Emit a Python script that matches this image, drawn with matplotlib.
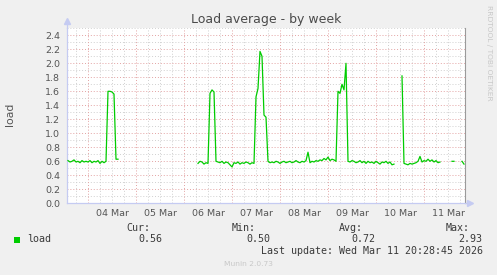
import numpy as np
import matplotlib
matplotlib.use("Agg")
import matplotlib.pyplot as plt

# hours since 04 Mar 00:00, one sample per hour, None = no data
first_hour = -10
load = (
    [0.61, 0.59, 0.60, 0.62, 0.59, 0.60, 0.58, 0.61, 0.59, 0.60]
    + [0.59, 0.61, 0.58, 0.60, 0.59, 0.61, 0.57, 0.60, 0.58, 0.60,
       1.60, 1.60, 1.59, 1.56, 0.63, 0.63]
    + [None] * 39
    + [0.57, 0.60, 0.59, 0.56, 0.58, 0.57]
    + [1.57, 1.62, 1.59, 0.60]
    + [0.59, 0.58, 0.60, 0.57, 0.59, 0.58, 0.55, 0.52, 0.58, 0.57,
       0.59, 0.56, 0.58, 0.57, 0.59, 0.58, 0.56, 0.58, 0.57]
    + [1.52, 1.64, 2.17, 2.10, 1.26, 1.23, 0.60]
    + [0.58, 0.59, 0.58, 0.60, 0.59, 0.57, 0.59, 0.60, 0.58, 0.59,
       0.60, 0.58, 0.59, 0.61, 0.59, 0.58, 0.60, 0.59, 0.61, 0.73,
       0.58, 0.60, 0.59, 0.61, 0.60, 0.62, 0.61, 0.64, 0.62, 0.66,
       0.61, 0.63, 0.62, 0.60]
    + [1.60, 1.57, 1.70, 1.62, 2.00]
    + [0.60, 0.59, 0.61, 0.60, 0.58, 0.59, 0.61, 0.58, 0.60, 0.57,
       0.60, 0.58, 0.59, 0.57, 0.60, 0.58, 0.56, 0.59, 0.58, 0.60,
       0.57, 0.59, 0.55, 0.56]
    + [None] * 3
    + [1.82]
    + [0.57, 0.56, 0.55, 0.57, 0.56, 0.57, 0.58, 0.60, 0.67, 0.59,
       0.61, 0.60, 0.63, 0.60, 0.62, 0.59, 0.61, 0.58, 0.59]
    + [None] * 5
    + [0.60, 0.60]
    + [None] * 3
    + [0.60, 0.56]
)

day_labels = ["04 Mar", "05 Mar", "06 Mar", "07 Mar",
              "08 Mar", "09 Mar", "10 Mar", "11 Mar"]
x_range = (-10.5, 188.5)
y_max = 2.5

stat_names = ["Cur:", "Min:", "Avg:", "Max:"]
stat_values = ["0.56", "0.50", "0.72", "2.93"]
last_update = "Last update: Wed Mar 11 20:28:45 2026"

GREEN = "#00CC00"
BG = "#F0F0F0"
AXIS = "#C5CBF2"
TXT = "#555555"

W, H = 497, 275
fig = plt.figure(figsize=(W / 100, H / 100), dpi=100, facecolor=BG)
ax = fig.add_axes([67 / W, 1 - 203.3 / H, 398 / W, 175 / H])
ax.set_facecolor("white")

hours = np.arange(first_hour, first_hour + len(load))
values = np.array(load, dtype=float)

ax.set_xlim(*x_range)
ax.set_ylim(0, y_max)

# grid: minor grey, major red-ish, both dotted
dot = (0, (1, 2))
for h in np.arange(-6, x_range[1], 6):
    if h % 24:
        ax.axvline(h, color="#D0D0D0", lw=0.7, ls=dot, zorder=1)
for v in np.arange(0.1, y_max + 0.01, 0.2):
    ax.axhline(v, color="#D0D0D0", lw=0.7, ls=dot, zorder=1)
for i in range(len(day_labels)):
    ax.axvline(24 * i, color="#E3A3A3", lw=0.7, ls=dot, zorder=2)
for v in np.arange(0.2, y_max, 0.2):
    ax.axhline(v, color="#E3A3A3", lw=0.7, ls=dot, zorder=2)

ax.plot(hours, values, color=GREEN, lw=0.9, zorder=3)

ax.set_xticks([24 * i + 12 for i in range(len(day_labels))])
ax.set_xticklabels(day_labels)
ax.set_yticks(np.arange(0, 2.41, 0.2))
ax.set_yticklabels([f"{v:.1f}" for v in np.arange(0, 2.41, 0.2)])
ax.tick_params(axis="both", length=0, labelsize=6.8, labelcolor=TXT)
ax.tick_params(axis="y", pad=5)
ax.tick_params(axis="x", pad=4)

for s in ["top"]:
    ax.spines[s].set_visible(False)
ax.spines["right"].set_color("#9A9A9A")
ax.spines["right"].set_linewidth(0.8)
for s in ["left", "bottom"]:
    ax.spines[s].set_color(AXIS)
    ax.spines[s].set_linewidth(0.9)

# axis arrows
ax.plot([0, 0], [1, 1.03], transform=ax.transAxes, color=AXIS, lw=0.9, clip_on=False)
ax.plot([0], [1.04], transform=ax.transAxes, marker="^", ms=4, color=AXIS, clip_on=False)
ax.plot([1, 1.008], [0, 0], transform=ax.transAxes, color=AXIS, lw=0.9, clip_on=False)
ax.plot([1.013], [0], transform=ax.transAxes, marker=">", ms=4, color=AXIS, clip_on=False)

fig.text(266 / W, 1 - 19 / H, "Load average - by week", ha="center", va="center",
         fontsize=9, color="#4A4A4A")
fig.text(10.5 / W, 1 - 114.7 / H, "load", rotation=90, ha="center", va="center",
         fontsize=7.8, color=TXT)
fig.text(488.5 / W, 1 - 53 / H, "RRDTOOL / TOBI OETIKER", rotation=-90,
         ha="center", va="center", fontsize=5.4, color="#C8C8C8")

mono = dict(family="DejaVu Sans Mono", fontsize=7.2, color="#3A3A3A", va="center")
stat_right = [150, 256, 363.3, 470]
val_right = [162.5, 270, 375.7, 482.7]
for name, xr in zip(stat_names, stat_right):
    fig.text(xr / W, 1 - 227.7 / H, name, ha="right", **mono)
for val, xr in zip(stat_values, val_right):
    fig.text(xr / W, 1 - 239.5 / H, val, ha="right", **mono)
fig.patches.append(plt.Rectangle((14 / W, 1 - 242.5 / H), 6 / W, 6 / H,
                                 transform=fig.transFigure, facecolor=GREEN,
                                 edgecolor="none"))
fig.text(27 / W, 1 - 239.5 / H, "load", ha="left", **mono)
fig.text(482.7 / W, 1 - 251.5 / H, last_update, ha="right", **mono)
fig.text(248 / W, 1 - 264 / H, "Munin 2.0.73", ha="center", va="center",
         fontsize=5.4, color="#C8C8C8")

fig.savefig("out.png", dpi=100, facecolor=BG)
